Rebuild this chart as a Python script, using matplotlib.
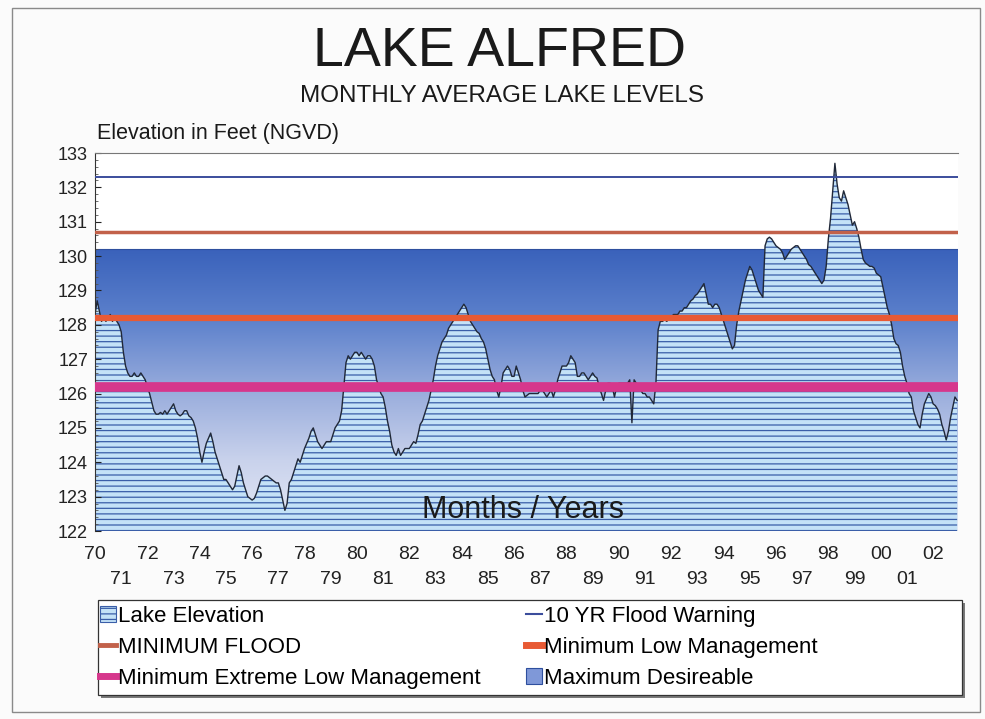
import numpy as np
import matplotlib
matplotlib.use("Agg")
import matplotlib.pyplot as plt
from matplotlib.patches import Patch, Rectangle
from matplotlib.lines import Line2D
from matplotlib.colors import LinearSegmentedColormap

plt.rcParams['font.family'] = ['Liberation Sans', 'DejaVu Sans']

# ---- data: monthly average lake elevation (ft NGVD), Jan 1970 - Dec 2002 ----
years = list(range(1970, 2003))
levels = {
    1970: [128.3, 128.7, 128.4, 128.1, 128.2, 128.1, 128.2, 128.3, 128.1, 128.2, 128.1, 128.0],
    1971: [127.8, 127.2, 126.8, 126.6, 126.5, 126.5, 126.6, 126.5, 126.5, 126.6, 126.5, 126.4],
    1972: [126.2, 126.0, 125.75, 125.5, 125.4, 125.4, 125.45, 125.4, 125.5, 125.4, 125.5, 125.6],
    1973: [125.7, 125.5, 125.4, 125.35, 125.4, 125.5, 125.5, 125.35, 125.3, 125.2, 125.0, 124.7],
    1974: [124.3, 124.0, 124.3, 124.55, 124.7, 124.85, 124.6, 124.3, 124.1, 123.9, 123.7, 123.5],
    1975: [123.5, 123.4, 123.3, 123.2, 123.3, 123.6, 123.9, 123.7, 123.4, 123.2, 123.0, 122.95],
    1976: [122.9, 122.95, 123.1, 123.3, 123.5, 123.55, 123.6, 123.6, 123.55, 123.5, 123.45, 123.4],
    1977: [123.4, 123.2, 122.9, 122.6, 122.8, 123.4, 123.5, 123.7, 123.9, 124.1, 124.0, 124.2],
    1978: [124.4, 124.55, 124.7, 124.9, 125.0, 124.8, 124.6, 124.5, 124.4, 124.5, 124.6, 124.6],
    1979: [124.6, 124.8, 125.0, 125.1, 125.2, 125.5, 126.2, 126.9, 127.1, 127.0, 127.1, 127.2],
    1980: [127.2, 127.1, 127.2, 127.1, 127.0, 127.1, 127.1, 127.0, 126.8, 126.4, 126.2, 126.0],
    1981: [125.9, 125.6, 125.2, 124.9, 124.5, 124.3, 124.2, 124.4, 124.2, 124.3, 124.4, 124.4],
    1982: [124.4, 124.5, 124.6, 124.55, 124.8, 125.1, 125.2, 125.4, 125.6, 125.8, 126.1, 126.4],
    1983: [126.8, 127.1, 127.3, 127.5, 127.6, 127.7, 127.9, 128.0, 128.1, 128.2, 128.3, 128.4],
    1984: [128.5, 128.6, 128.5, 128.3, 128.1, 128.0, 127.9, 127.8, 127.75, 127.6, 127.5, 127.3],
    1985: [127.0, 126.7, 126.5, 126.4, 126.1, 125.9, 126.2, 126.6, 126.7, 126.8, 126.7, 126.5],
    1986: [126.5, 126.8, 126.6, 126.4, 126.1, 125.9, 125.95, 126.0, 126.0, 126.0, 126.0, 126.0],
    1987: [126.1, 126.1, 126.0, 125.9, 126.0, 126.1, 125.9, 126.1, 126.4, 126.6, 126.8, 126.8],
    1988: [126.8, 126.9, 127.1, 127.0, 126.9, 126.5, 126.5, 126.6, 126.6, 126.5, 126.4, 126.5],
    1989: [126.6, 126.5, 126.45, 126.2, 126.0, 125.8, 126.1, 126.3, 126.3, 126.2, 125.9, 126.2],
    1990: [126.3, 126.3, 126.3, 126.3, 126.3, 126.4, 125.15, 126.4, 126.3, 126.2, 126.1, 126.0],
    1991: [126.0, 125.9, 125.9, 125.8, 125.7, 126.3, 127.85, 128.1, 128.1, 128.15, 128.1, 128.2],
    1992: [128.2, 128.3, 128.3, 128.3, 128.4, 128.4, 128.5, 128.5, 128.6, 128.7, 128.75, 128.85],
    1993: [128.9, 129.0, 129.1, 129.2, 128.9, 128.6, 128.6, 128.5, 128.6, 128.6, 128.5, 128.3],
    1994: [128.1, 127.9, 127.7, 127.5, 127.3, 127.4, 128.0, 128.4, 128.7, 129.0, 129.3, 129.5],
    1995: [129.7, 129.6, 129.4, 129.2, 129.0, 128.9, 128.8, 130.3, 130.5, 130.55, 130.5, 130.4],
    1996: [130.3, 130.25, 130.2, 130.1, 129.9, 130.0, 130.1, 130.2, 130.25, 130.3, 130.3, 130.2],
    1997: [130.1, 130.0, 129.9, 129.75, 129.7, 129.6, 129.5, 129.4, 129.3, 129.2, 129.3, 129.7],
    1998: [130.5, 131.1, 131.9, 132.7, 132.1, 131.7, 131.6, 131.9, 131.7, 131.5, 131.2, 130.9],
    1999: [131.0, 130.8, 130.55, 130.2, 129.9, 129.8, 129.75, 129.7, 129.7, 129.65, 129.5, 129.45],
    2000: [129.4, 129.1, 128.8, 128.5, 128.3, 128.0, 127.6, 127.45, 127.4, 127.2, 126.8, 126.5],
    2001: [126.3, 126.0, 125.9, 125.5, 125.3, 125.1, 125.0, 125.4, 125.7, 125.85, 126.0, 125.9],
    2002: [125.7, 125.65, 125.55, 125.4, 125.1, 124.9, 124.65, 124.9, 125.3, 125.6, 125.9, 125.8],
}

flood_warning_10yr = 132.3
minimum_flood = 130.7
minimum_low_mgmt = 128.2
minimum_extreme_low = 126.2
maximum_desireable = 130.2

even_labels = ["70", "72", "74", "76", "78", "80", "82", "84", "86", "88",
               "90", "92", "94", "96", "98", "00", "02"]
odd_labels = ["71", "73", "75", "77", "79", "81", "83", "85", "87", "89",
              "91", "93", "95", "97", "99", "01"]

# ---- build series ----
t = []
v = []
for y in years:
    for m, val in enumerate(levels[y]):
        t.append(y + m / 12.0)
        v.append(val)
t = np.array(t)
v = np.array(v)

W, H = 985, 719
fig = plt.figure(figsize=(W / 100, H / 100), dpi=100)
fig.patch.set_facecolor('#fbfbfb')

# outer frame
fig.add_artist(Rectangle((12 / W, 1 - 712 / H), (980 - 12) / W, (712 - 8) / H,
                         transform=fig.transFigure, fill=False,
                         edgecolor='#8a8a8a', lw=1.0))

L, R, T, B = 95, 958, 153, 531
ax = fig.add_axes([L / W, 1 - B / H, (R - L) / W, (B - T) / H])
ax.set_facecolor('white')
xmin, xmax = 1970.0, 2002.95
ymin, ymax = 122, 133
ax.set_xlim(xmin, xmax)
ax.set_ylim(ymin, ymax)

# Maximum desireable gradient band
cmap = LinearSegmentedColormap.from_list('band', [
    (0.0, '#e6ebf6'), (0.25, '#c9d2ec'), (0.5, '#98acdc'),
    (0.75, '#5d81cc'), (1.0, '#3a62bb')])
grad = np.linspace(0, 1, 256).reshape(-1, 1)
ax.imshow(grad, extent=[xmin, xmax, ymin, maximum_desireable], origin='lower',
          aspect='auto', cmap=cmap, zorder=0.5)
ax.axhline(maximum_desireable, color='#2e4f9e', lw=0.8, zorder=0.6)

# lake elevation area
plt.rcParams['hatch.linewidth'] = 0.9
ax.fill_between(t, ymin, v, facecolor='#c4e2f7', edgecolor='#3a5ea8',
                hatch='---', lw=0, zorder=1)
ax.plot(t, v, color='#202838', lw=1.0, zorder=2)

# reference lines
ax.axhline(flood_warning_10yr, color='#3b4d9c', lw=1.4, zorder=3)
ax.axhline(minimum_flood, color='#c2614a', lw=2.5, zorder=3)
ax.axhline(minimum_low_mgmt, color='#e85a34', lw=4.5, zorder=3)
ax.axhline(minimum_extreme_low, color='#d6378c', lw=7, zorder=3)

ax.text((523 - L) / (R - L), (B - 510) / (B - T), "Months / Years",
        transform=ax.transAxes, ha='center', va='center', fontsize=22,
        color='#1a1a1a', zorder=5)

# axes styling
for s in ['right', 'bottom']:
    ax.spines[s].set_visible(False)
ax.spines['top'].set_color('#777777')
ax.spines['left'].set_color('#333333')
ax.set_yticks(range(122, 134))
ax.set_yticks(np.arange(122, 133.01, 0.2), minor=True)
ax.tick_params(axis='y', which='major', labelsize=13, length=4, direction='in',
               pad=5, colors='#222222')
ax.tick_params(axis='y', which='minor', length=2, direction='in', colors='#555555')
ax.set_xticks([])

# two-row year labels
for i, lab in enumerate(even_labels):
    x = 1970 + 2 * i
    ax.text(x, -0.063, lab, transform=ax.get_xaxis_transform(), ha='center',
            va='center', fontsize=14, color='#222222')
for i, lab in enumerate(odd_labels):
    x = 1971 + 2 * i
    ax.text(x, -0.128, lab, transform=ax.get_xaxis_transform(), ha='center',
            va='center', fontsize=14, color='#222222')

# titles
fig.text(500 / W, 1 - 52 / H, "LAKE ALFRED", ha='center', va='center',
         fontsize=40, color='#1a1a1a')
fig.text(502 / W, 1 - 96 / H, "MONTHLY AVERAGE LAKE LEVELS", ha='center',
         va='center', fontsize=17.5, color='#1a1a1a')
fig.text(97 / W, 1 - 133 / H, "Elevation in Feet (NGVD)", ha='left',
         va='center', fontsize=15.5, color='#1a1a1a')

# legend box with shadow
lx0, ly0, lx1, ly1 = 98, 600, 962, 695
fig.add_artist(Rectangle(((lx0 + 3) / W, 1 - (ly1 + 3) / H), (lx1 - lx0) / W,
                         (ly1 - ly0) / H, transform=fig.transFigure,
                         facecolor='#7a7a7a', edgecolor='none', zorder=1))
fig.add_artist(Rectangle((lx0 / W, 1 - ly1 / H), (lx1 - lx0) / W,
                         (ly1 - ly0) / H, transform=fig.transFigure,
                         facecolor='white', edgecolor='#333333', lw=0.9, zorder=2))

h_lake = Patch(facecolor='#c4e2f7', edgecolor='#3a5ea8', hatch='---', lw=0.8)
h_10yr = Line2D([], [], color='#3b4d9c', lw=1.5)
h_minflood = Line2D([], [], color='#c2614a', lw=3.5)
h_minlow = Line2D([], [], color='#e85a34', lw=5)
h_extreme = Line2D([], [], color='#d6378c', lw=5)
h_maxdes = Patch(facecolor='#7f98d8', edgecolor='#2e4f9e', lw=0.8)

common = dict(loc='upper left', fontsize=16, frameon=False, handlelength=0.7,
              handletextpad=0.12, labelspacing=0.45, borderaxespad=0,
              borderpad=0)
leg1 = fig.legend([h_lake, h_minflood, h_extreme],
                  ["Lake Elevation", "MINIMUM FLOOD", "Minimum Extreme Low Management"],
                  bbox_to_anchor=(100 / W, 1 - 606 / H), **common)
leg2 = fig.legend([h_10yr, h_minlow, h_maxdes],
                  ["10 YR Flood Warning", "Minimum Low Management", "Maximum Desireable"],
                  bbox_to_anchor=(526 / W, 1 - 606 / H), **common)
leg1.set_zorder(3)
leg2.set_zorder(3)

fig.savefig("out.png", dpi=100, facecolor=fig.get_facecolor())
